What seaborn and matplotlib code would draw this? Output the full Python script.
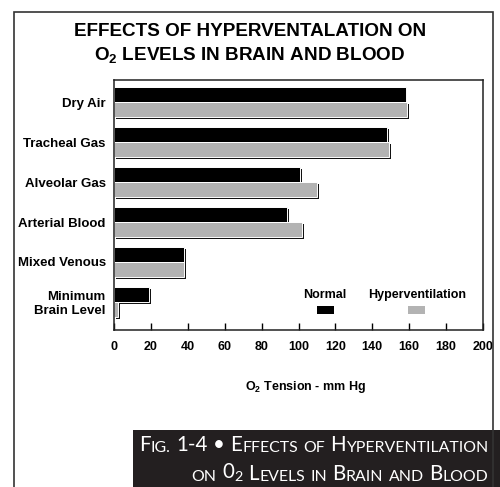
import matplotlib
matplotlib.use("Agg")
import matplotlib.pyplot as plt
import matplotlib.patheffects as pe
from matplotlib.patches import Rectangle
import pandas as pd
import seaborn as sns

# data
sites = ["Dry Air", "Tracheal Gas", "Alveolar Gas", "Arterial Blood",
         "Mixed Venous", "Minimum\nBrain Level"]
normal = [158, 148, 101, 94, 38, 19]
hyper = [159, 149, 110, 102, 38, 2]
series = ["Normal", "Hyperventilation"]
colors = {"Normal": "#000000", "Hyperventilation": "#b3b3b3"}
xticks = list(range(0, 201, 20))

sns.set_style("white")
plt.rcParams["font.family"] = ["Liberation Sans", "DejaVu Sans"]
for key in ["text.color", "axes.labelcolor", "xtick.color", "ytick.color"]:
    plt.rcParams[key] = "black"

df = pd.DataFrame({
    "site": sites * 2,
    "tension": normal + hyper,
    "state": [series[0]] * len(sites) + [series[1]] * len(sites),
})

fig = plt.figure(figsize=(5, 4.87), dpi=100)
ax = fig.add_axes([0.228, 0.3224, 0.738, 0.5133])

sns.barplot(data=df, x="tension", y="site", hue="state", hue_order=series,
            palette=colors, orient="h", width=0.73, saturation=1,
            edgecolor="white", linewidth=0.7, legend=False, ax=ax)

shadow = [pe.SimplePatchShadow(offset=(1.4, -1.4), shadow_rgbFace="#111111", alpha=1),
          pe.Normal()]
for p in ax.patches:
    p.set_path_effects(shadow)

ax.set_xlim(0, 200)
ax.set_ylim(5.7, -0.55)
ax.set_xticks(xticks)
ax.set_ylabel("")
ax.set_xlabel(r"$\mathregular{O_2}$ Tension - mm Hg", fontsize=9, fontweight="bold")
ax.xaxis.set_label_coords(0.52, -0.228)
ax.xaxis.label.set_va("center")
ax.tick_params(axis="x", bottom=True, direction="in", length=5, width=1,
               color="black", pad=8, labelsize=9)
ax.tick_params(axis="y", left=False, length=0, pad=6, labelsize=9.5)
for lab in ax.get_xticklabels() + ax.get_yticklabels():
    lab.set_fontweight("bold")
for s in ax.spines.values():
    s.set_color("#222222")
    s.set_linewidth(1.1)

# legend: label above a small swatch
for name, xc in zip(series, [0.572, 0.821]):
    ax.text(xc, 0.14, name, transform=ax.transAxes, ha="center", va="center",
            fontsize=9, fontweight="bold")
    ax.add_patch(Rectangle((xc - 0.023, 0.064), 0.046, 0.032, transform=ax.transAxes,
                           facecolor=colors[name], edgecolor="none"))

# title
fig.text(0.5, 1 - 36 / 487, "EFFECTS OF HYPERVENTALATION ON", ha="center",
         va="baseline", fontsize=13.6, fontweight="bold")
fig.text(0.5, 1 - 60 / 487, r"$\mathregular{O_2}$ LEVELS IN BRAIN AND BLOOD",
         ha="center", va="baseline", fontsize=13.6, fontweight="bold")

# outer frame
fig.add_artist(Rectangle((14 / 500, -0.02), 479 / 500, 1.02 - 12 / 487,
                         transform=fig.transFigure, facecolor="none",
                         edgecolor="#333333", linewidth=1.2))

# caption box with small-caps style text
cax = fig.add_axes([133 / 500, 0, 367 / 500, 57 / 487])
cax.set_facecolor("#231f20")
cax.set_xticks([])
cax.set_yticks([])
for s in cax.spines.values():
    s.set_visible(False)

big, small = 14.8, 11.4
line1 = [[("F", 1), ("IG.", 0)], [("1-4", 1)], [("•", 1)], [("E", 1), ("FFECTS", 0)],
         [("OF", 0)], [("H", 1), ("YPERVENTILATION", 0)]]
line2 = [[("ON", 0)], [(r"$\mathregular{0_2}$", 1)], [("L", 1), ("EVELS", 0)],
         [("IN", 0)], [("B", 1), ("RAIN", 0)], [("AND", 0)], [("B", 1), ("LOOD", 0)]]


def caption_line(words, x_right, y_bottom):
    anchor = None
    for w in reversed(words):
        for j, (txt, is_big) in enumerate(reversed(w)):
            size = big if is_big else small
            kw = dict(ha="right", va="bottom", fontsize=size, color="white",
                      family=["Lato", "DejaVu Sans"])
            if anchor is None:
                anchor = cax.text(x_right, y_bottom, txt, transform=cax.transAxes, **kw)
            else:
                gap = 3.8 if j == 0 else 0.2
                anchor = cax.annotate(txt, xy=(0, 0), xycoords=anchor,
                                      xytext=(-gap, 0), textcoords="offset points", **kw)


caption_line(line1, 0.968, 0.57)
caption_line(line2, 0.968, 0.05)

fig.savefig("out.png", dpi=100)
